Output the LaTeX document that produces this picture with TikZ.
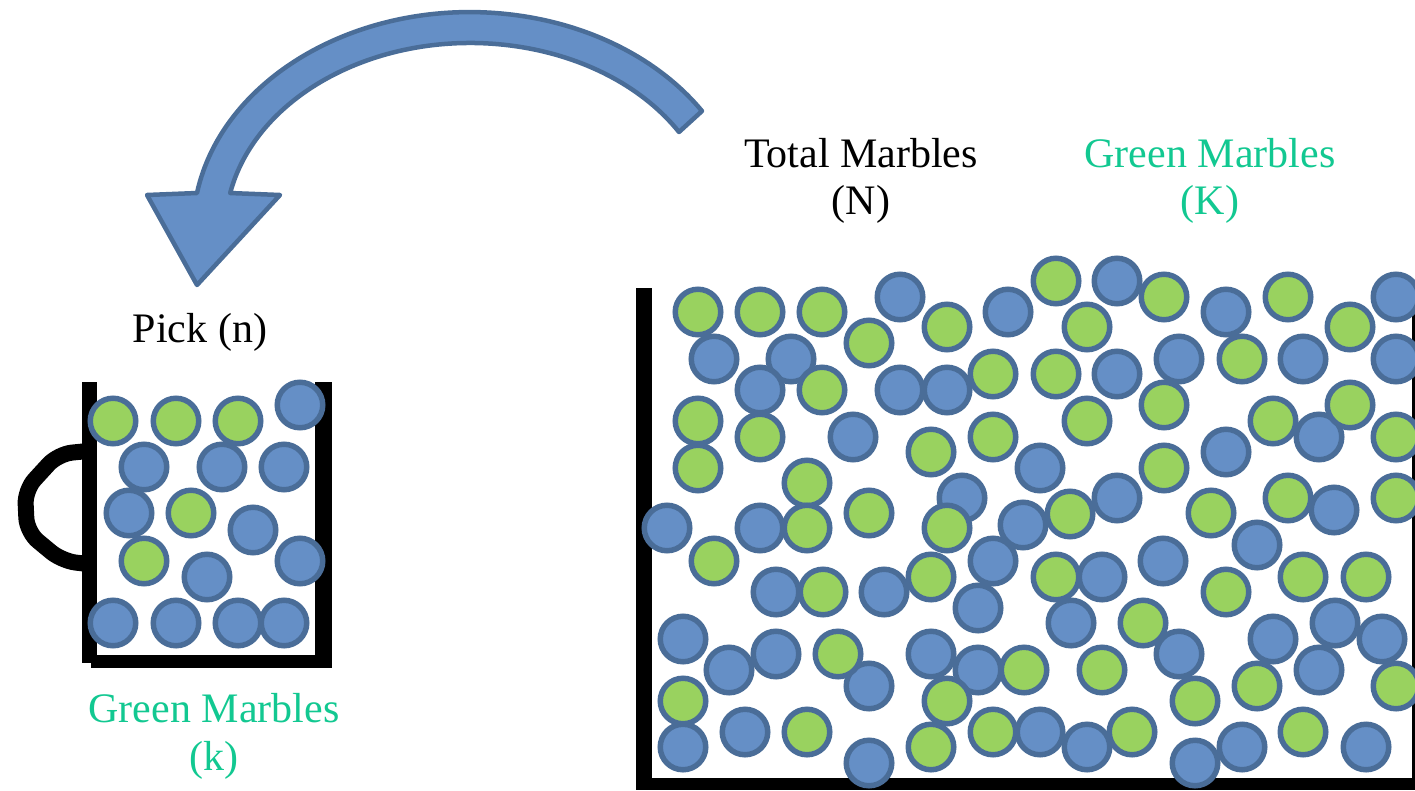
\documentclass[tikz,border=0pt]{standalone}
\usepackage{fontspec}
\setmainfont{Liberation Serif}
\definecolor{marbleblue}{HTML}{658FC6}
\definecolor{marbleedge}{HTML}{4A6D98}
\definecolor{marblegreen}{HTML}{99D25F}
\definecolor{labelgreen}{HTML}{12C891}

\begin{document}
\begin{tikzpicture}[x=1pt,y=-1pt,
    bm/.style={fill=marbleblue,draw=marbleedge,line width=5.5pt},
    gm/.style={fill=marblegreen,draw=marbleedge,line width=5.5pt},
    wall/.style={fill=black},
    lbl/.style={anchor=base,inner sep=0pt,font=\fontsize{42}{50}\selectfont},
    glbl/.style={lbl,text=labelgreen}]
  \useasboundingbox (0,0) rectangle (1415,790);
  % curved arrow
  \draw[fill=marbleblue,draw=marbleedge,line width=4.5pt,line join=round]
    (197,193) arc[start angle=189.8,end angle=326.9,x radius=277,y radius=218]
    -- (679,132) arc[start angle=328.4,end angle=191.4,x radius=245,y radius=187]
    -- (280,195) -- (197,285) -- (147,195) -- cycle;
  % big box
  \fill[wall] (636,288) rectangle (652,790);
  \fill[wall] (636,778) rectangle (1415,790);
  \fill[wall] (1412,288) rectangle (1415,778);
  % cup
  \fill[wall] (82,382) rectangle (97,663);
  \fill[wall] (315,382) rectangle (332,668);
  \fill[wall] (91,655) rectangle (323,668);
  \draw[line width=16pt,rounded corners=14pt] (88,451) -- (58,454) -- (25,490)
    -- (27,532) -- (62,561) -- (88,564);
  % marbles in the box
  \foreach \x/\y in {714/359,791/359,760/390,853/437,667/528,760/528,
      900/297,1008/312,1117/281,900/390,947/390,1117/374,1040/468,962/498,1023/525,1117/498,
      1226/312,1396/297,1179/359,1303/359,1396/359,1319/437,1226/452,1334/510,
      776/592,884/592,683/639,729/670,776/654,869/686,683/747,745/732,869/763,
      993/561,978/608,1102/577,1071/623,1163/561,931/654,978/670,1040/732,1087/747,
      1257/545,1179/654,1273/639,1335/623,1382/639,1319/670,1195/763,1242/747,1366/747}
    \draw[bm] (\x,\y) circle[radius=22.75];
  \foreach \x/\y in {698/312,760/312,822/312,869/343,822/390,698/421,760/437,698/468,807/483,807/528,869/513,
      947/327,1056/281,1087/327,993/374,1056/374,1087/421,931/452,993/437,947/528,1070/514,
      1164/297,1288/297,1350/327,1242/359,1164/405,1273/421,1350/405,1396/437,1164/468,1211/513,1288/498,1396/498,
      714/561,823/592,838/654,683/701,807/732,
      931/577,1056/577,1143/623,1024/670,947/701,1102/670,931/747,993/732,1132/732,
      1226/592,1303/577,1366/577,1257/686,1195/701,1396/686,1303/732}
    \draw[gm] (\x,\y) circle[radius=22.75];
  % marbles in the cup
  \foreach \x/\y in {300/405,144/467,222/467,284/467,129/513,253/530,207/577,300/561,
      113/623,176/623,238/623,284/623}
    \draw[bm] (\x,\y) circle[radius=22.75];
  \foreach \x/\y in {113/421,176/421,238/421,191/513,144/561}
    \draw[gm] (\x,\y) circle[radius=22.75];
  % labels
  \node[lbl] (total) at (861,167) {Total Marbles};
  \node[lbl] (totalN) at (861,214) {(N)};
  \node[glbl] (green) at (1210,167) {Green Marbles};
  \node[glbl] (greenK) at (1210,214) {(K)};
  \node[lbl] (pick) at (200,342) {Pick (n)};
  \node[glbl] (cupgreen) at (214,722) {Green Marbles};
  \node[glbl] (cupgreenk) at (214,770) {(k)};
\end{tikzpicture}
\end{document}
